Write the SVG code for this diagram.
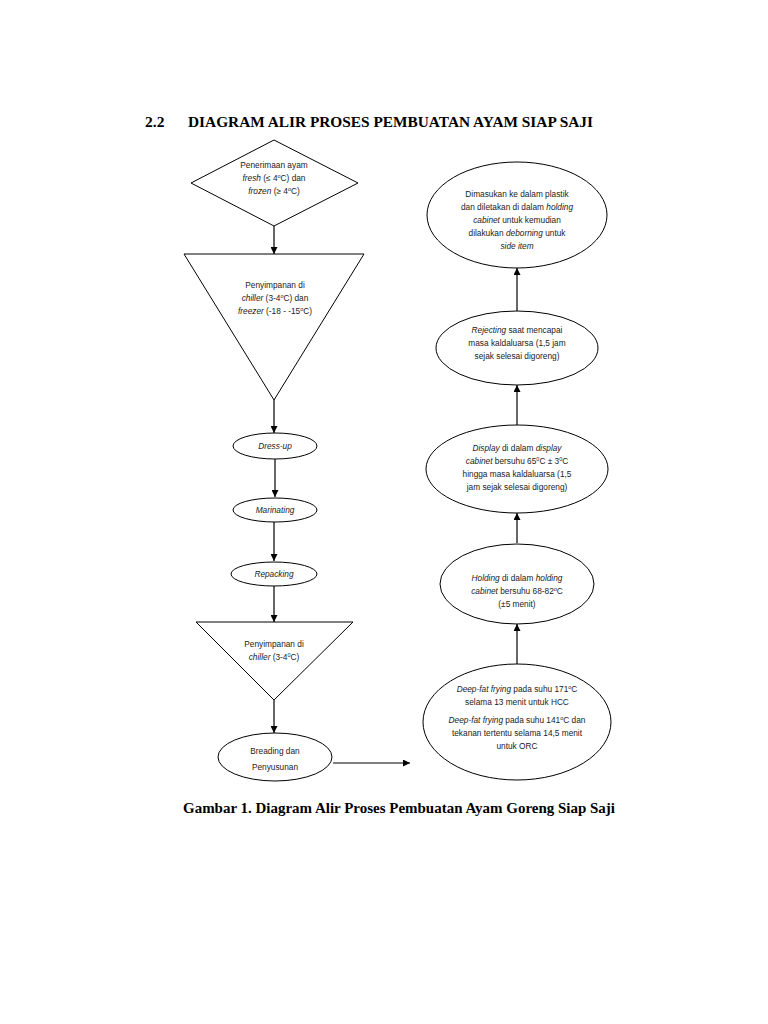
<svg xmlns="http://www.w3.org/2000/svg" width="768" height="1024" viewBox="0 0 768 1024">
<defs>
<marker id="ah" viewBox="0 0 10 10" refX="10" refY="5" markerWidth="7" markerHeight="7" markerUnits="userSpaceOnUse" orient="auto">
<path d="M0,0 L10,5 L0,10 z" fill="#000"/>
</marker>
<style>
.shape{fill:#fff;stroke:#000;stroke-width:1}
.t{font-family:"Liberation Sans",Arial,sans-serif;font-size:8.3px;fill:#222;text-anchor:middle}
.i{font-style:italic}
.sup{font-size:5.5px}
.h{font-family:"Liberation Serif","Times New Roman",serif;font-weight:bold;font-size:15.5px;fill:#000}
.c line{stroke:#000;stroke-width:1.2;marker-end:url(#ah)}
</style>
</defs>
<rect width="768" height="1024" fill="#fff"/>
<text class="h" x="145" y="127">2.2</text>
<text class="h" x="188" y="127" textLength="405" lengthAdjust="spacingAndGlyphs">DIAGRAM ALIR PROSES PEMBUATAN AYAM SIAP SAJI</text>

<g id="connectors" class="c">
<line x1="274" y1="226" x2="274" y2="254"/>
<line x1="274" y1="400" x2="274" y2="433"/>
<line x1="275" y1="459" x2="275" y2="497"/>
<line x1="274" y1="522" x2="274" y2="561"/>
<line x1="274" y1="586" x2="274" y2="622"/>
<line x1="274" y1="700" x2="274" y2="733"/>
<line x1="333" y1="763" x2="410" y2="763"/>
<line x1="517" y1="664" x2="517" y2="624"/>
<line x1="517" y1="543" x2="517" y2="513"/>
<line x1="517" y1="425" x2="517" y2="385"/>
<line x1="517" y1="311" x2="517" y2="268"/>
</g>

<g id="n1">
<polygon class="shape" points="274,140 358,183 274,226 191,183"/>
<text class="t" x="274" y="168">Penerimaan ayam</text>
<text class="t" x="274" y="181"><tspan class="i">fresh</tspan> (≤ 4<tspan class="sup" baseline-shift="super">o</tspan>C) dan</text>
<text class="t" x="274" y="194"><tspan class="i">frozen</tspan> (≥ 4<tspan class="sup" baseline-shift="super">o</tspan>C)</text>
</g>

<g id="n2">
<polygon class="shape" points="184,254 364,254 274,400"/>
<text class="t" x="275" y="288">Penyimpanan di</text>
<text class="t" x="275" y="301"><tspan class="i">chiller</tspan> (3-4<tspan class="sup" baseline-shift="super">o</tspan>C) dan</text>
<text class="t" x="275" y="314"><tspan class="i">freezer</tspan> (-18 - -15<tspan class="sup" baseline-shift="super">o</tspan>C)</text>
</g>

<g id="n3">
<ellipse class="shape" cx="275" cy="446" rx="42" ry="13"/>
<text class="t i" x="275" y="449">Dress-up</text>
</g>

<g id="n4">
<ellipse class="shape" cx="275" cy="510" rx="42" ry="12"/>
<text class="t i" x="275" y="513">Marinating</text>
</g>

<g id="n5">
<ellipse class="shape" cx="274" cy="574" rx="43" ry="12"/>
<text class="t i" x="274" y="577">Repacking</text>
</g>

<g id="n6">
<polygon class="shape" points="196,622 353,622 274,700"/>
<text class="t" x="274" y="647">Penyimpanan di</text>
<text class="t" x="274" y="660"><tspan class="i">chiller</tspan> (3-4<tspan class="sup" baseline-shift="super">0</tspan>C)</text>
</g>

<g id="n7">
<ellipse class="shape" cx="275" cy="757" rx="57" ry="24"/>
<text class="t" x="275" y="754">Breading dan</text>
<text class="t" x="275" y="770">Penyusunan</text>
</g>

<g id="n8">
<ellipse class="shape" cx="517" cy="722" rx="94" ry="58"/>
<text class="t" x="517" y="692"><tspan class="i">Deep-fat frying</tspan> pada suhu 171<tspan class="sup" baseline-shift="super">o</tspan>C</text>
<text class="t" x="517" y="705">selama 13 menit untuk HCC</text>
<text class="t" x="517" y="723"><tspan class="i">Deep-fat frying</tspan> pada suhu 141<tspan class="sup" baseline-shift="super">o</tspan>C dan</text>
<text class="t" x="517" y="736">tekanan tertentu selama 14,5 menit</text>
<text class="t" x="517" y="749">untuk ORC</text>
</g>

<g id="n9">
<ellipse class="shape" cx="517" cy="584" rx="77" ry="40"/>
<text class="t" x="517" y="581"><tspan class="i">Holding</tspan> di dalam <tspan class="i">holding</tspan></text>
<text class="t" x="517" y="594"><tspan class="i">cabinet</tspan> bersuhu 68-82<tspan class="sup" baseline-shift="super">o</tspan>C</text>
<text class="t" x="517" y="607">(±5 menit)</text>
</g>

<g id="n10">
<ellipse class="shape" cx="517" cy="469" rx="91" ry="44"/>
<text class="t" x="517" y="451"><tspan class="i">Display</tspan> di dalam <tspan class="i">display</tspan></text>
<text class="t" x="517" y="464"><tspan class="i">cabinet</tspan> bersuhu 65<tspan class="sup" baseline-shift="super">0</tspan>C ± 3<tspan class="sup" baseline-shift="super">0</tspan>C</text>
<text class="t" x="517" y="477">hingga masa kaldaluarsa (1,5</text>
<text class="t" x="517" y="490">jam sejak selesai digoreng)</text>
</g>

<g id="n11">
<ellipse class="shape" cx="517" cy="348" rx="81" ry="37"/>
<text class="t" x="517" y="333"><tspan class="i">Rejecting</tspan> saat mencapai</text>
<text class="t" x="517" y="346">masa kaldaluarsa (1,5 jam</text>
<text class="t" x="517" y="359">sejak selesai digoreng)</text>
</g>

<g id="n12">
<ellipse class="shape" cx="517" cy="215" rx="90" ry="53"/>
<text class="t" x="517" y="197">Dimasukan ke dalam plastik</text>
<text class="t" x="517" y="210">dan diletakan di dalam <tspan class="i">holding</tspan></text>
<text class="t" x="517" y="223"><tspan class="i">cabinet</tspan> untuk kemudian</text>
<text class="t" x="517" y="236">dilakukan <tspan class="i">deborning</tspan> untuk</text>
<text class="t" x="517" y="249"><tspan class="i">side item</tspan></text>
</g>

<text class="h" x="399" y="813" text-anchor="middle" textLength="432" lengthAdjust="spacingAndGlyphs">Gambar 1. Diagram Alir Proses Pembuatan Ayam Goreng Siap Saji</text>
</svg>
